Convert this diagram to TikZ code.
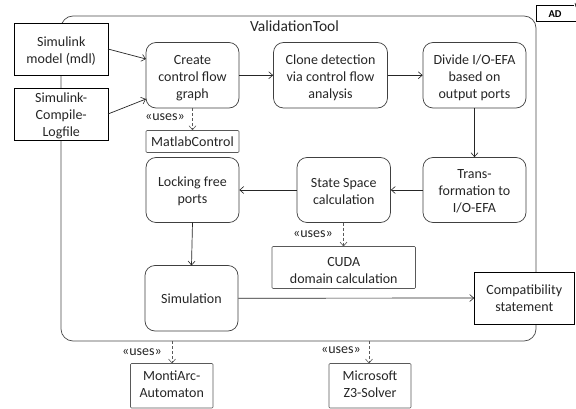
\documentclass[tikz,border=0pt]{standalone}
\usepackage{fontspec}
\setmainfont{Carlito}
\usetikzlibrary{arrows.meta}
\tikzset{
 x=1pt,y=-1pt,
 lbl/.style={font=\fontsize{14}{17}\selectfont,align=center,text=black!85},
 act/.style={lbl,draw=black!75,line width=0.7pt,rounded corners=10pt,inner sep=0pt},
 obj/.style={lbl,draw=black,line width=0.7pt,fill=white,inner sep=0pt},
 lib/.style={lbl,draw=black!65,line width=0.6pt,rounded corners=1pt,fill=white,inner sep=0pt},
 flow/.style={draw=black!85,line width=0.7pt,-{Straight Barb[length=4pt,width=7pt,line width=0.6pt]}},
 dep/.style={flow,draw=black!65,densely dashed},
 ster/.style={lbl,inner sep=0pt},
 tup/.style={execute at end node={\rule[-#1]{0pt}{0pt}}},
}
\newcommand{\boxat}[6]{\node[#1,minimum width=#4-#2,minimum height=#5-#3] (#6) at ({(#2+#4)/2},{(#3+#5)/2})}
\newcommand{\dnA}{\rule{0pt}{14.2pt}}
\newcommand{\dnB}{\rule{0pt}{12.2pt}}
\begin{document}
\begin{tikzpicture}
\useasboundingbox (0,0) rectangle (576,409);
\fill[white] (0,0) rectangle (576,409);
\node[draw=black!70,line width=0.7pt,rounded corners=12pt,minimum width=475pt,minimum height=325pt,inner sep=0pt] (tool) at (298.5,178.5) {};
\node[lbl,font=\fontsize{15.5}{17}\selectfont] (title) at (294.5,26) {ValidationTool};
\boxat{obj}{14.5}{23}{108}{75}{model} {\dnA Simulink\\model (mdl)};
\boxat{obj}{14.5}{88}{108}{140}{log} {\dnA Simulink-\\Compile-\\Logfile};
\boxat{act}{146}{42.5}{239}{108}{create} {\dnA Create\\control flow\\graph};
\boxat{act}{273.5}{42.5}{387.5}{108}{clone} {\dnA Clone detection\\via control flow\\analysis};
\boxat{act}{423}{42.5}{526}{108}{divide} {\dnA Divide I/O-EFA\\based on\\output ports};
\boxat{act}{423}{157.5}{526}{222.5}{trans} {\dnB Trans-\\formation to\\I/O-EFA};
\boxat{act}{297}{157.5}{390.5}{222.5}{state} {\dnB State Space\\calculation};
\boxat{act}{146}{157.5}{239}{222.5}{lock} {\dnB Locking free\\ports};
\boxat{act}{145}{265.5}{238}{331}{sim} {Simulation};
\boxat{lib}{146}{130.5}{239}{152.5}{matlab} {MatlabControl};
\boxat{lib}{272}{246.5}{415.5}{288.5}{cuda} {\dnA CUDA\\domain calculation};
\boxat{obj}{474.5}{272}{574}{324}{compat} {Compatibility\\statement};
\boxat{lib,tup=3pt}{130.5}{363.5}{213}{408}{monti} {MontiArc-\\Automaton};
\boxat{lib,tup=3pt}{329}{363.5}{411}{408}{z3} {Microsoft\\Z3-Solver};
\coordinate (a1) at (108,49);
\coordinate (a2) at (146,59);
\draw[flow] (a1) -- (a2);
\coordinate (b1) at (108,114);
\coordinate (b2) at (146,99);
\draw[flow] (b1) -- (b2);
\draw[flow] (create) -- (clone);
\draw[flow] (clone) -- (divide);
\draw[flow] (divide) -- (trans);
\draw[flow] (trans) -- (state);
\draw[flow] (state) -- (lock);
\coordinate (l1) at (192.5,222.5);
\coordinate (l2) at (191.5,265.5);
\draw[flow] (l1) -- (l2);
\draw[flow] (sim) -- (compat);
\draw[dep] (create) -- (matlab);
\coordinate (s1) at (343.5,222.5);
\coordinate (s2) at (343.5,246.5);
\draw[dep] (s1) -- (s2);
\coordinate (t1) at (172,341);
\coordinate (t2) at (172,363.5);
\draw[dep] (t1) -- (t2);
\coordinate (u1) at (369,341);
\coordinate (u2) at (369,363.5);
\draw[dep] (u1) -- (u2);
\node[ster] (u_a) at (165,117.5) {«uses»};
\node[ster] (u_b) at (313,234) {«uses»};
\node[ster] (u_c) at (142,352) {«uses»};
\node[ster] (u_d) at (341,350) {«uses»};
\coordinate (ad1) at (574,5);
\coordinate (ad2) at (536.5,5);
\coordinate (ad3) at (536.5,21);
\coordinate (ad4) at (576,21);
\draw[black,line width=0.6pt,fill=white] (ad1) -- (ad2) -- (ad3) -- (ad4);
\coordinate (ad5) at (575,3);
\coordinate (ad6) at (576,7);
\draw[black,line width=0.6pt] (ad5) -- (ad6);
\node[inner sep=0pt,font=\fontsize{10.5}{10}\bfseries\selectfont] (ad) at (555,14) {AD};
\end{tikzpicture}
\end{document}
